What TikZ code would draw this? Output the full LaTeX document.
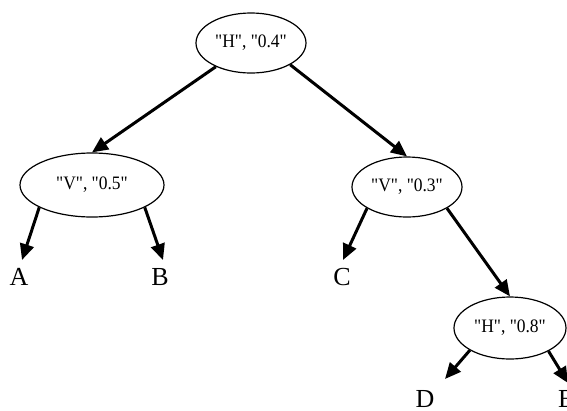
\documentclass[tikz,border=0pt]{standalone}
\usepackage{fontspec}
\setmainfont{Liberation Serif}
\newfontfamily\plainserif{Liberation Serif}
\usetikzlibrary{shapes.geometric,arrows.meta}
\begin{document}
\begin{tikzpicture}[x=1pt,y=-1pt,
  cell/.style={ellipse,draw,line width=1.2pt,inner sep=0pt,font=\plainserif\fontsize{19}{19}\selectfont},
  leaf/.style={inner sep=0pt,font=\fontsize{26}{26}\selectfont,anchor=north},
  link/.style={line width=3pt,-{Triangle[length=16pt,width=14pt]}}]
\useasboundingbox (0,0) rectangle (567,410);
\node[cell,minimum width=110pt,minimum height=60pt] (root) at (251,43) {\scalebox{0.92}[1]{"H", "0.4"}};
\node[cell,minimum width=144pt,minimum height=64pt] (lv) at (92,185) {\scalebox{0.92}[1]{"V", "0.5"}};
\node[cell,minimum width=110pt,minimum height=60pt] (rv) at (407,187) {\scalebox{0.92}[1]{"V", "0.3"}};
\node[cell,minimum width=112pt,minimum height=62pt] (h8) at (510,328) {\scalebox{0.92}[1]{"H", "0.8"}};
\node[leaf] (A) at (19,268) {A};
\node[leaf] (B) at (160,268) {B};
\node[leaf] (C) at (342,268) {C};
\node[leaf] (D) at (425,390) {D};
\node[leaf] (E) at (566,390) {E};
\coordinate (tA) at (22,260);
\coordinate (tB) at (163,260);
\coordinate (tC) at (343,260);
\coordinate (tD) at (445,379);
\coordinate (tE) at (568,383);
\draw[link] (root.-146) -- (lv.north);
\draw[link] (root.-29) -- (rv.north);
\draw[link] (lv.-157) -- (tA);
\draw[link] (lv.-23) -- (tB);
\draw[link] (rv.-152) -- (tC);
\draw[link] (rv.-28) -- (h8.north);
\draw[link] (h8.-151) -- (tD);
\draw[link] (h8.-31) -- (tE);
\end{tikzpicture}
\end{document}
